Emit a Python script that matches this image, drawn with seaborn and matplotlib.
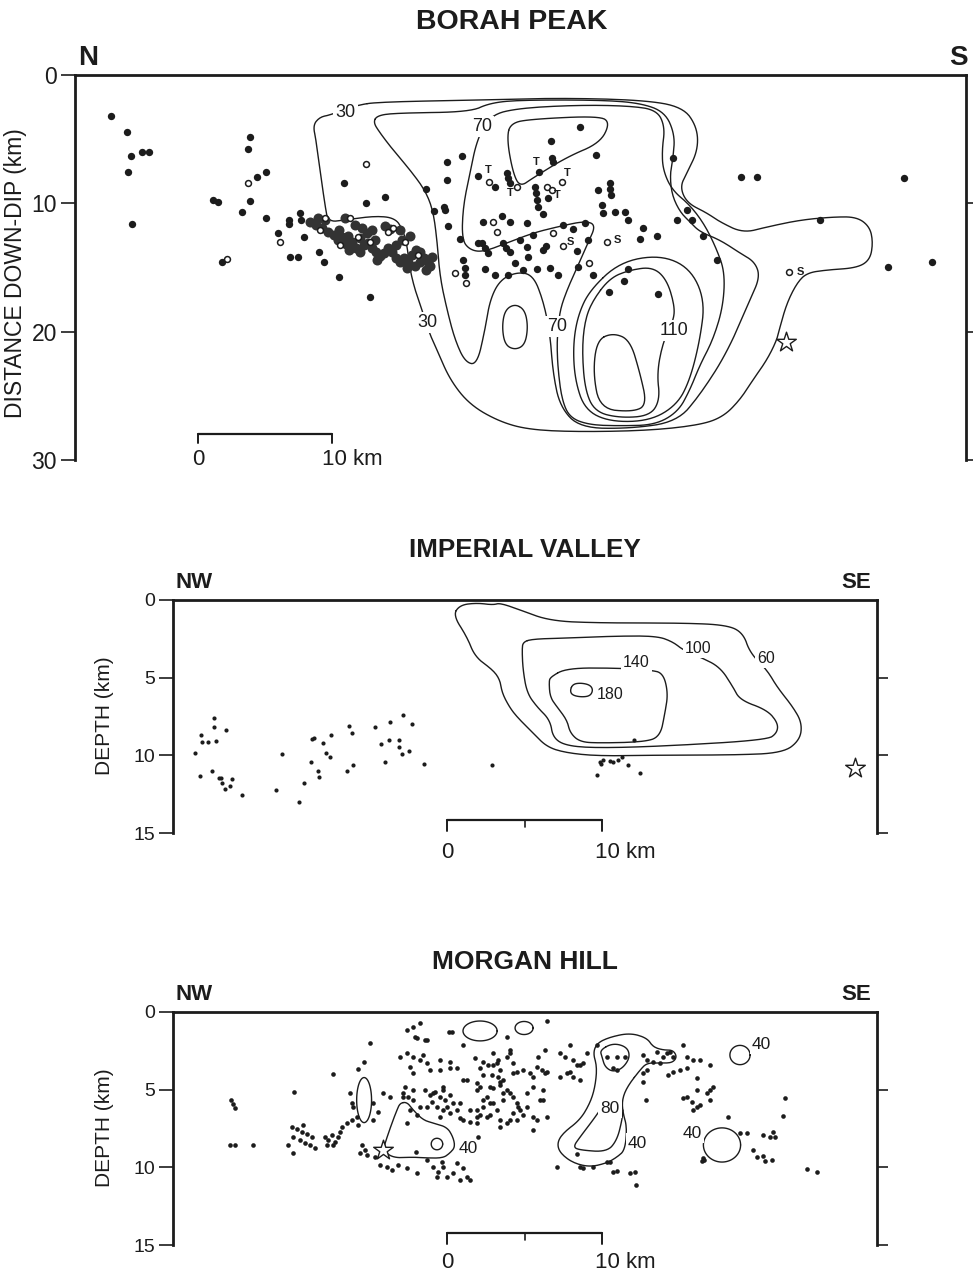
import numpy as np
import matplotlib
matplotlib.use("Agg")
import matplotlib.pyplot as plt
import seaborn as sns

sns.set_theme(style="white")
plt.rcParams['font.family'] = ['Liberation Sans', 'DejaVu Sans']
INK = "#1c1c1c"

# ======================= BORAH PEAK =======================
# x: km along strike (scale-bar origin), y: km down-dip
borah_filled = [
    (-6.49,3.19),(-5.30,4.44),(-5.0,6.31),(-4.18,6.0),(-3.66,6.0),(-5.22,7.56),(-4.92,11.61),
    (3.88,4.83),(3.73,5.76),(5.07,7.56),(4.40,7.95),(3.88,9.82),(1.12,9.74),(1.49,9.89),(3.28,10.67),(5.07,11.14),
    (10.89,8.41),(13.95,9.50),(12.53,9.97),(6.79,11.30),(6.79,11.61),(7.61,10.75),(7.68,11.30),(5.97,12.31),(7.91,12.62),
    (6.86,14.18),(7.46,14.18),(9.03,13.79),(9.40,14.57),(10.52,15.74),(12.83,17.29),(1.79,14.57),
    (18.58,6.78),(19.69,6.31),(18.58,8.18),(20.89,7.87),(17.01,8.88),(18.35,10.28),(18.43,10.52),(17.61,10.59),
    (18.65,11.76),(19.55,12.78),(20.89,13.09),(19.77,14.41),(19.92,15.03),(19.92,15.58),
    (28.50,4.05),(26.33,5.14),(29.69,6.23),(26.41,6.47),(26.48,6.78),(22.16,8.72),(23.05,7.63),(23.13,8.02),(23.28,8.41),
    (25.44,7.56),(25.14,8.72),(25.21,9.19),(25.29,9.74),(25.36,10.28),(26.11,9.58),(25.74,10.83),
    (29.84,8.96),(30.74,8.41),(30.74,8.88),(30.81,9.35),(30.14,10.13),(30.21,10.75),(31.11,10.67),(31.85,10.67),(32.08,11.30),
    (35.44,6.47),(36.48,10.52),(36.85,11.30),(35.73,11.30),(37.67,12.54),(38.72,14.41),(33.20,11.92),(34.24,12.54),(32.97,12.78),
    (29.09,12.85),(27.98,12.0),(28.87,11.53),(27.23,11.69),(24.54,11.53),(21.26,11.45),(22.68,10.98),(23.28,11.45),
    (21.19,13.09),(21.41,13.48),(21.63,13.87),(22.75,13.09),(22.98,13.48),(23.28,13.79),(24.02,12.85),(24.99,12.46),
    (24.54,13.40),(24.62,14.18),(25.74,13.63),(25.96,13.32),(28.27,13.71),(21.41,15.11),(22.16,15.58),(23.13,15.58),
    (23.65,14.65),(24.25,15.19),(25.29,15.11),(26.26,15.03),(26.86,15.58),(28.35,14.96),(29.47,15.58),(32.08,15.11),
    (31.78,16.05),(30.66,16.90),(34.32,17.06),
    (40.51,7.95),(41.70,7.95),(52.67,8.02),(46.40,11.30),(51.47,14.96),(54.76,14.57),
]
borah_band = [
    (8.36,11.45),(8.80,11.69),(9.25,11.92),(9.70,12.23),(10.15,12.46),(10.44,12.85),(10.74,12.62),(11.19,12.54),
    (11.49,13.01),(11.79,13.48),(12.09,13.79),(12.38,13.24),(12.68,13.09),(12.98,13.48),(13.28,13.79),(13.58,14.10),
    (13.88,13.87),(14.17,13.48),(14.47,13.79),(14.77,14.26),(15.07,14.57),(15.37,14.26),(15.67,14.57),(15.96,14.02),
    (16.26,13.63),(16.56,13.79),(16.86,14.26),(17.16,14.57),(17.46,14.18),(11.71,11.69),(12.23,11.92),(12.61,12.31),
    (12.98,12.08),(13.95,11.76),(14.32,12.0),(11.26,13.63),(13.35,14.41),(15.59,15.03),(16.19,14.88),(15.22,12.85),
    (14.77,13.24),(10.52,12.08),(11.04,13.17),(17.01,15.19),(17.31,14.88),(16.56,14.57),(8.95,11.14),(9.47,11.30),
    (10.97,11.14),(15.07,12.08),(15.82,12.54),(13.20,12.85),(12.09,12.70),
]
borah_open = [
    (12.53,6.93),(3.73,8.41),(6.12,13.01),(2.16,14.33),(21.71,8.34),(23.80,8.72),(26.04,8.72),(26.41,8.96),(27.15,8.34),
    (26.48,12.31),(22.01,11.45),(22.31,12.23),(29.17,14.65),(30.51,13.01),(27.23,13.32),(19.17,15.42),(19.99,16.20),
    (44.09,15.35),(9.47,11.14),(11.34,11.14),(14.17,12.23),(14.55,11.92),(12.83,13.01),(11.94,12.62),(10.59,13.24),
    (16.41,14.02),(15.44,13.01),(9.10,12.07),
]
borah_T = [(21.63,7.40),(23.28,9.19),(25.21,6.78),(26.78,9.35),(27.53,7.63)]
borah_S = [(31.26,12.85),(27.75,13.01),(44.91,15.35)]
borah_star = [(43.86,20.80)]

borah_c30 = [(11.86,2.34),(13.58,2.10),(21.04,1.95),(27.01,1.79),(33.20,1.95),(36.18,2.49),(37.23,4.05),(37.30,5.84),
    (36.48,7.63),(35.96,8.72),(36.48,9.97),(37.97,10.75),(38.94,11.45),(40.66,12.31),(42.45,11.84),(44.91,11.30),
    (47.37,11.06),(49.16,11.06),(50.13,11.84),(50.36,13.09),(50.13,14.41),(49.16,15.03),(46.92,15.19),(45.43,15.42),
    (44.69,16.20),(43.94,17.76),(43.42,19.63),(43.19,20.64),(42.45,22.20),(41.40,23.76),(40.43,25.32),(39.17,26.64),
    (37.45,27.27),(33.72,27.70),(28.50,27.81),(24.77,27.65),(22.53,27.03),(20.29,25.71),(18.80,23.76),(17.83,21.42),
    (17.31,20.25),(16.71,18.31),(16.19,16.75),(15.82,15.19),(15.59,13.24),(15.29,12.07),(14.70,11.14),(13.20,10.98),
    (10.97,11.30),(9.70,11.45),(9.47,10.13),(9.10,7.40),(8.80,5.06),(8.58,3.90),(9.10,3.27),(9.85,3.12)]
borah_c50 = [(13.06,3.66),(13.43,3.12),(15.07,2.96),(20.29,2.88),(21.78,2.18),(24.02,1.95),(29.99,1.95),(32.97,2.18),
    (34.84,2.88),(35.58,4.67),(35.44,6.47),(35.21,7.79),(35.36,9.35),(35.96,10.67),(36.70,11.45),(37.45,12.23),
    (38.94,12.85),(40.43,13.87),(41.55,14.57),(41.93,15.74),(41.18,17.53),(39.46,21.66),(37.45,24.93),(35.73,27.03),
    (32.23,27.55),(28.50,27.50),(27.01,25.86),(26.48,23.21),(26.26,20.10),(25.74,17.53),(24.99,15.58),(23.80,15.35),
    (22.53,15.97),(21.78,17.53),(21.41,19.86),(20.81,22.59),(19.92,22.36),(19.17,20.64),(18.58,18.31),(18.05,15.74),
    (17.83,12.85),(17.53,10.52),(16.93,8.96),(15.82,7.40),(14.55,5.84),(13.58,4.52)]
borah_c70 = [(20.81,5.06),(21.78,3.12),(24.02,2.57),(28.50,2.34),(32.23,2.41),(34.24,2.73),(34.84,4.05),(34.62,5.84),
    (34.69,7.40),(35.36,8.96),(36.70,10.13),(37.82,11.69),(38.72,13.63),(39.31,15.42),(39.17,18.07),(38.42,20.64),
    (37.45,22.59),(36.70,24.54),(35.81,26.25),(34.09,27.27),(31.48,27.34),(29.24,27.27),(27.75,26.72),(27.15,25.32),
    (26.86,22.98),(26.78,21.03),(26.86,19.86),(27.01,18.31),(27.53,16.75),(28.27,15.03),(29.09,13.09),(29.69,11.69),
    (28.87,11.37),(26.78,11.84),(24.99,12.31),(23.05,13.09),(21.26,13.79),(20.29,13.63),(19.69,12.85),(19.77,10.28),
    (20.29,7.63)]
borah_c90a = [(23.28,3.74),(23.05,5.06),(23.50,7.63),(24.02,8.72),(24.99,8.02),(27.53,6.39),(29.99,5.30),(30.74,3.74),
    (29.99,3.19),(24.99,3.43)]
borah_c90b = [(29.24,16.75),(31.48,14.57),(34.47,14.02),(36.70,15.03),(37.82,17.53),(37.45,20.64),(36.70,23.76),
    (35.73,25.71),(33.72,26.95),(30.74,27.03),(28.87,26.10),(28.12,23.76),(27.98,21.03),(28.35,18.70)]
borah_c110 = [(29.47,17.53),(30.74,15.81),(32.23,15.19),(33.94,14.96),(34.99,15.97),(35.58,18.07),(35.44,19.24),
    (34.69,20.80),(34.24,23.21),(34.47,25.32),(33.72,26.56),(31.48,26.72),(29.62,26.25),(28.87,24.54),(28.65,21.42),
    (28.87,19.09)]
borah_c130 = [(29.77,20.64),(30.96,20.10),(32.23,20.64),(32.97,23.21),(33.50,25.71),(32.45,26.25),(29.99,26.02),(29.47,23.21)]
borah_island = [(23.65,17.84),(24.39,18.31),(24.62,19.63),(24.39,21.03),(23.65,21.42),(22.90,21.03),(22.68,19.63),(22.90,18.31)]
borah_labels = [("30",11.0,2.9),("70",21.2,4.0),("30",17.1,19.3),("70",26.8,19.6),("110",35.5,19.9)]

# ======================= IMPERIAL VALLEY =======================
imp_x = [-15.03,-15.03,-14.26,-15.87,-15.81,-15.42,-14.90,-16.26,-15.94,-15.16,-14.71,-14.58,-14.52,-13.87,-14.00,
         -14.32,-13.23,-11.03,-10.65,-9.55,-9.23,-8.71,-8.58,-8.77,-8.00,-7.48,-7.81,-7.55,-8.32,-8.26,-6.45,-6.06,
         -6.32,-6.13,-4.65,-4.26,-3.68,-3.74,-2.84,-2.26,-3.10,-3.10,-2.90,-2.45,-4.00,-1.48,2.90,12.06,9.87,10.06,
         10.52,10.71,11.03,11.29,11.68,9.68,12.45,9.94]
imp_y = [7.60,8.18,8.37,8.69,9.14,9.14,9.08,9.85,11.33,11.01,11.46,11.46,11.78,11.53,11.98,12.17,12.56,12.23,9.92,
         13.01,11.78,8.95,8.89,10.43,9.21,8.69,9.85,10.11,11.01,11.40,11.01,10.62,8.11,8.56,8.18,9.27,7.86,9.01,7.41,
         7.98,9.01,9.47,9.92,9.72,10.43,10.56,10.62,9.01,10.43,10.30,10.37,10.43,10.30,10.11,10.62,11.27,11.14,10.56]
imp_star = [(26.32,10.82)]
imp_c60 = [(0.39,0.97),(0.84,0.32),(1.94,0.19),(2.97,0.32),(3.42,0.19),(4.71,0.64),(6.65,1.35),(9.87,1.48),(15.23,1.48),
    (18.06,1.61),(19.10,2.12),(19.55,3.41),(20.65,4.51),(21.29,5.60),(22.32,6.89),(22.90,7.92),(22.77,9.01),(21.68,9.85),
    (18.45,9.98),(14.19,9.98),(9.87,10.05),(7.74,9.85),(6.45,9.47),(5.55,8.56),(4.58,7.60),(4.06,6.95),(3.55,5.99),
    (3.42,5.15),(2.97,4.51),(1.81,3.67),(1.29,2.38)]
imp_c100 = [(4.90,2.70),(5.55,2.51),(7.74,2.45),(10.97,2.32),(13.55,2.32),(14.58,2.70),(15.23,3.22),(16.32,3.67),
    (17.61,4.31),(18.45,5.60),(18.90,6.44),(20.65,7.08),(21.35,7.92),(21.29,8.56),(20.65,9.01),(14.19,9.40),(9.87,9.53),
    (7.74,9.40),(6.84,8.89),(6.65,7.73),(5.81,6.89),(5.16,5.99),(4.90,4.51),(4.84,3.22)]
imp_c140 = [(6.65,4.96),(7.74,4.38),(10.97,4.38),(13.10,4.51),(13.94,4.70),(14.26,5.99),(14.06,7.28),(13.74,8.82),
    (12.65,9.14),(9.87,9.21),(8.58,9.14),(7.94,8.56),(7.74,7.73),(7.10,6.89),(6.65,6.25),(6.58,5.34)]
imp_c180 = [(7.94,5.80),(8.13,5.41),(8.65,5.34),(9.23,5.47),(9.42,5.80),(9.23,6.18),(8.65,6.25),(8.06,6.12)]
imp_labels = [("60",20.6,3.75),("100",16.2,3.1),("140",12.2,4.0),("180",10.5,6.1)]

# ======================= MORGAN HILL =======================
morgan_pts = [
    (-13.80,5.93),(-13.67,6.18),(-13.93,5.67),(-14.0,8.57),(-13.67,8.57),(-12.51,8.57),(-9.87,5.15),
    (-10.0,7.41),(-9.68,7.53),(-9.35,7.73),(-9.03,7.86),(-8.71,8.05),(-9.93,8.05),(-9.48,8.24),(-9.16,8.44),(-8.84,8.57),
    (-10.26,8.57),(-9.93,9.08),(-8.51,8.76),(-9.29,7.28),
    (-7.87,8.05),(-7.68,8.24),(-7.42,7.92),(-7.22,8.37),(-7.03,8.05),(-7.35,8.57),(-7.74,8.57),(-6.90,7.73),(-6.77,7.41),
    (-6.45,7.15),(-6.13,6.96),(-5.81,6.76),(-5.74,7.28),
    (-7.35,3.99),(-5.74,3.67),(-5.35,3.22),(-4.97,2.00),(-6.26,5.22),(-6.13,5.86),(-6.06,6.12),(-4.77,5.86),(-4.45,6.44),(-4.77,6.96),
    (-5.48,8.57),(-5.29,8.89),(-5.61,9.08),(-5.16,9.21),(-4.64,9.34),(-4.32,9.85),(-3.87,9.98),(-3.55,10.18),(-3.16,9.85),
    (-2.58,10.05),(-1.94,10.37),
    (-2.58,7.15),(-2.00,9.02),(-1.29,9.53),(-0.90,9.98),(-0.58,10.30),(-0.26,9.98),(0.0,10.63),(0.39,10.37),(0.84,10.82),
    (1.29,10.63),(1.03,10.05),(0.65,9.72),(-0.65,10.63),(-0.32,9.66),(1.48,10.82),(2.0,8.05),
    (-4.13,5.22),(-3.68,5.47),(-2.84,5.22),(-2.52,5.47),(-2.19,5.02),(-2.71,4.83),(-1.42,5.02),(-1.10,5.35),(-0.77,5.15),
    (-0.45,5.47),(-0.13,5.67),(0.19,5.35),(0.39,5.86),(-0.97,5.80),(0.0,6.12),(-0.26,5.02),(-1.29,6.12),(-0.45,6.76),
    (0.84,5.86),(1.48,6.31),(1.94,6.76),(1.03,6.96),
    (-2.58,2.64),(-2.19,2.90),(-1.74,3.09),(-1.29,3.28),(-1.10,3.73),(-2.39,3.54),(-1.55,2.77),(-3.03,2.90),(-2.19,0.97),
    (-1.74,0.71),(-2.58,1.16),(-1.94,1.67),(-1.29,1.80),(-0.45,3.09),(0.19,3.22),(0.19,3.61),(0.65,3.61),(0.13,1.29),
    (1.03,2.12),(-2.19,3.93),
    (1.81,2.96),(2.32,3.22),(2.97,3.41),(2.13,3.61),(3.42,3.73),(1.03,4.38),(1.94,4.57),(2.77,4.83),(3.42,4.51),(1.94,5.02),
    (2.58,5.47),(2.97,5.86),(2.32,6.12),(3.23,6.31),(3.61,5.22),(2.77,6.63),(3.42,6.96),
    (3.87,2.90),(4.26,3.93),(3.87,5.02),(4.26,5.47),(4.58,6.12),
    (6.45,0.58),(7.94,2.12),(7.29,2.64),(7.61,2.90),(7.74,3.93),(8.13,4.19),(5.55,4.83),(6.32,2.45),(4.52,3.86),(4.90,3.73),
    (5.35,3.93),(5.81,3.54),(6.13,3.73),(6.32,3.93),(4.26,3.28),(2.97,2.64),(3.29,3.09),(3.61,4.38),(4.06,5.22),(4.52,5.86),
    (4.26,6.50),(5.16,6.12),(5.81,6.96),(4.52,6.96),(4.90,6.63),
    (8.13,3.09),(8.58,3.41),(9.03,2.64),(8.77,3.28),(8.58,4.38),(5.55,4.19),(6.45,3.86),(4.06,2.64),(5.87,2.90),(6.19,5.02),
    (5.16,5.22),(4.71,6.31),(4.06,6.96),(5.55,6.76),(5.55,7.60),
    (10.32,2.90),(10.97,2.90),(11.48,2.90),(10.71,3.61),(10.97,3.73),(9.68,2.12),
    (12.65,2.77),(12.90,3.09),(13.29,3.22),(13.74,3.28),(14.19,2.64),(14.39,2.58),(14.58,2.90),(13.94,2.90),(13.55,2.58),
    (12.65,3.93),(12.65,4.51),(12.90,3.73),
    (15.23,2.12),(15.48,2.90),(15.87,3.09),(16.32,3.09),(14.26,4.06),(14.58,3.86),(15.03,3.73),(15.48,3.61),(16.97,3.41),
    (16.13,4.25),(16.13,5.02),(15.23,5.54),(15.48,5.47),(15.81,5.80),(16.13,6.12),(15.87,6.31),(16.32,5.99),(16.77,5.22),
    (16.97,5.02),(17.16,4.83),(16.97,5.67),(12.84,5.67),
    (18.13,6.76),(18.90,7.79),(19.35,7.79),(20.39,7.92),(20.84,8.05),(21.03,7.73),(21.16,8.05),(19.74,8.89),(20.0,9.34),
    (20.39,9.27),(20.52,9.59),(20.97,9.53),(21.81,5.54),(21.68,6.70),(23.23,10.11),(23.87,10.30),(16.52,9.40),(16.45,9.59),
    (16.60,9.50),
    (7.10,9.98),(8.58,9.98),(8.77,10.05),(9.42,9.98),(10.32,9.66),(10.52,9.66),(10.71,10.30),(10.97,10.24),(11.81,10.37),
    (12.13,10.30),(12.19,11.14),(8.39,9.14),(6.19,5.67),(6.45,6.76),
    (0.32,1.29),(-2.06,1.61),(-1.42,1.80),(-0.45,3.73),(1.29,4.38),(2.65,3.41),(3.23,3.28),(2.32,4.06),(2.90,4.06),(3.29,4.19),
    (2.13,4.83),(2.97,4.89),(3.42,4.70),(2.32,5.67),(2.77,5.86),(3.61,5.67),(1.94,6.31),(2.13,6.63),(2.58,6.76),(-0.90,5.22),
    (-0.26,4.83),(-0.65,6.12),(-0.26,6.31),(0.19,6.50),(0.65,6.31),(-2.84,5.47),(-2.19,5.67),(-1.74,6.12),(-2.39,6.31),
    (-1.94,6.63),(0.84,6.83),(1.48,7.08),(1.94,7.15),(3.42,7.41),(3.87,7.15),(6.0,5.67),(3.87,1.61),(4.06,2.45),(7.29,4.19),
    (7.94,3.86),(8.39,3.41),
]
morgan_star = [(-4.13,8.89)]
mh_left40 = [(-3.03,5.86),(-2.58,5.80),(-2.19,6.31),(-1.55,6.95),(-0.90,7.15),(0.0,7.41),(0.39,8.05),(0.52,8.69),(0.19,9.08),
    (-0.26,9.40),(-1.29,9.40),(-2.19,9.34),(-3.48,9.40),(-4.13,8.89),(-3.87,8.05),(-3.48,6.95),(-3.23,6.31)]
mh_mid40 = [(12.45,3.73),(11.61,4.83),(11.29,5.67),(11.35,6.50),(11.61,7.41),(11.48,8.89),(10.97,9.34),(10.32,9.72),
    (9.23,9.98),(8.13,9.72),(7.29,9.08),(7.10,8.44),(7.48,7.79),(8.58,6.95),(9.23,5.86),(9.55,4.83),(9.68,3.54),(9.42,2.64),
    (9.68,2.00),(10.52,1.61),(11.81,1.35),(12.90,1.67),(13.29,2.25),(13.94,2.45),(14.58,2.45),(14.84,2.90),(14.52,3.28),
    (13.74,3.28),(12.90,3.28)]
mh_80 = [(9.87,6.31),(9.42,6.95),(8.58,8.05),(8.13,8.69),(8.58,8.89),(10.32,9.01),(10.97,8.24),(11.29,6.95),(11.35,6.31)]
mh_top = [(9.87,2.45),(10.71,2.00),(11.61,2.25),(11.81,2.90),(11.35,3.61),(10.71,3.86),(10.19,3.54),(10.0,2.90)]
# small closed contours: (centre x, centre y, half-width, half-height) in km
mh_ovals = [(2.13,1.22,1.1,0.64),(4.97,1.03,0.58,0.42),(-5.35,5.67,0.48,1.45),(-0.65,8.50,0.37,0.37),
            (18.90,2.77,0.65,0.62),(17.74,8.56,1.2,1.1)]
mh_labels = [("40",1.4,8.8),("40",12.3,8.45),("40",15.8,7.8),("40",20.3,2.1),("80",10.5,6.2)]


def chaikin(pts, n=3, closed=True):
    p = np.asarray(pts, float)
    for _ in range(n):
        q = np.roll(p, -1, axis=0) if closed else p[1:]
        a = p if closed else p[:-1]
        Q = 0.75 * a + 0.25 * q
        R = 0.25 * a + 0.75 * q
        new = np.empty((2 * len(a), 2))
        new[0::2] = Q
        new[1::2] = R
        if not closed:
            new = np.vstack([p[:1], new, p[-1:]])
        p = new
    if closed:
        p = np.vstack([p, p[:1]])
    return p


def contour(ax, pts, closed=True, lw=1.0):
    p = chaikin(pts, closed=closed)
    ax.plot(p[:, 0], p[:, 1], color=INK, lw=lw, solid_joinstyle='round', zorder=2)


def oval(ax, cx, cy, rx, ry, lw=1.0):
    t = np.linspace(0, 2 * np.pi, 80)
    ax.plot(cx + rx * np.cos(t), cy + ry * np.sin(t), color=INK, lw=lw, zorder=2)


def frame(ax, xlim, ymax, lticks, rticks, tick_fs):
    ax.set_xlim(*xlim)
    ax.set_ylim(ymax, 0)
    ax.set_xticks([])
    ax.set_yticks(lticks)
    ax.spines['bottom'].set_visible(False)
    for s in ['left', 'top', 'right']:
        ax.spines[s].set_linewidth(2.0)
        ax.spines[s].set_color(INK)
    ax.tick_params(axis='y', left=True, direction='out', length=10, width=1.2,
                   labelsize=tick_fs, colors=INK, pad=3)
    ax2 = ax.twinx()
    ax2.set_ylim(ymax, 0)
    ax2.set_yticks(rticks)
    ax2.set_yticklabels([])
    ax2.tick_params(axis='y', right=True, direction='out', length=8, width=1.2, colors=INK)
    for s in ax2.spines.values():
        s.set_visible(False)
    ax.set_facecolor('white')


def scalebar(ax, y, tick, lab_y, fs, mid=False):
    ax.plot([0, 10], [y, y], color=INK, lw=1.6, clip_on=False)
    for xv in [0, 10]:
        ax.plot([xv, xv], [y, y + tick], color=INK, lw=1.4, clip_on=False)
    if mid:
        ax.plot([5, 5], [y, y + tick * 0.6], color=INK, lw=1.2, clip_on=False)
    ax.text(0, lab_y, "0", ha='center', va='center', fontsize=fs, color=INK, clip_on=False)
    ax.text(11.5, lab_y, "10 km", ha='center', va='center', fontsize=fs, color=INK, clip_on=False)


def clabel(ax, items, fs):
    for t, x, y in items:
        ax.text(x, y, t, fontsize=fs, ha='center', va='center', color=INK, zorder=3,
                bbox=dict(facecolor='white', edgecolor='none', pad=1.6))


fig = plt.figure(figsize=(9.73, 12.74), dpi=100)
fig.patch.set_facecolor('white')

# ---------------- Borah Peak ----------------
ax1 = fig.add_axes([75 / 973, 1 - 460 / 1274, 891 / 973, 385 / 1274])
frame(ax1, (-9.18, 57.3), 30, [0, 10, 20, 30], [10, 20, 30], 16.5)
for c in [borah_c30, borah_c50, borah_c70, borah_c90a, borah_c90b, borah_c110, borah_c130, borah_island]:
    contour(ax1, c)
bf = np.array(borah_filled); bb = np.array(borah_band); bo = np.array(borah_open)
sns.scatterplot(x=bf[:, 0], y=bf[:, 1], ax=ax1, s=28, color=INK, linewidth=0, legend=False, zorder=4)
sns.scatterplot(x=bb[:, 0], y=bb[:, 1], ax=ax1, s=52, color="#333333", linewidth=0, legend=False, zorder=4)
sns.scatterplot(x=bo[:, 0], y=bo[:, 1], ax=ax1, s=18, color='white', edgecolor=INK, linewidth=1.1, legend=False, zorder=5)
bs = np.array(borah_star)
sns.scatterplot(x=bs[:, 0], y=bs[:, 1], ax=ax1, s=220, marker='*', color='white', edgecolor=INK, linewidth=1.0, legend=False, zorder=5)
for x, y in borah_T:
    ax1.text(x, y, "T", fontsize=8, fontweight='bold', ha='center', va='center', color=INK, zorder=6)
for x, y in borah_S:
    ax1.text(x, y, "S", fontsize=8, fontweight='bold', ha='center', va='center', color=INK, zorder=6)
clabel(ax1, borah_labels, 13)
scalebar(ax1, 27.97, 0.7, 29.95, 16)
fig.text(16 / 973, 1 - 273 / 1274, "DISTANCE DOWN-DIP (km)", rotation=90, fontsize=16.5,
         ha='center', va='center', color=INK)
ax1.text(0.015, 1.045, "N", transform=ax1.transAxes, fontsize=20, fontweight='bold', ha='center', va='center', color=INK)
ax1.text(0.992, 1.045, "S", transform=ax1.transAxes, fontsize=20, fontweight='bold', ha='center', va='center', color=INK)
fig.text(512 / 973, 1 - 22 / 1274, "BORAH PEAK", fontsize=20.5, fontweight='bold', ha='center', va='center', color=INK)

# ---------------- Imperial Valley ----------------
ax2 = fig.add_axes([173 / 973, 1 - 833 / 1274, 704 / 973, 233 / 1274])
frame(ax2, (-17.68, 27.74), 15, [0, 5, 10, 15], [5, 10, 15], 14)
for c in [imp_c60, imp_c100, imp_c140, imp_c180]:
    contour(ax2, c)
sns.scatterplot(x=imp_x, y=imp_y, ax=ax2, s=9, color=INK, linewidth=0, legend=False, zorder=4)
ist = np.array(imp_star)
sns.scatterplot(x=ist[:, 0], y=ist[:, 1], ax=ax2, s=220, marker='*', color='white', edgecolor=INK, linewidth=1.0, legend=False, zorder=5)
clabel(ax2, imp_labels, 11.5)
scalebar(ax2, 14.17, 0.7, 16.25, 16, mid=True)
fig.text(105 / 973, 1 - 716 / 1274, "DEPTH (km)", rotation=90, fontsize=15, ha='center', va='center', color=INK)
ax2.text(0.03, 1.075, "NW", transform=ax2.transAxes, fontsize=16, fontweight='bold', ha='center', va='center', color=INK)
ax2.text(0.97, 1.075, "SE", transform=ax2.transAxes, fontsize=16, fontweight='bold', ha='center', va='center', color=INK)
fig.text(525 / 973, 1 - 550 / 1274, "IMPERIAL VALLEY", fontsize=18.7, fontweight='bold', ha='center', va='center', color=INK)

# ---------------- Morgan Hill ----------------
ax3 = fig.add_axes([173 / 973, 1 - 1245 / 1274, 704 / 973, 233 / 1274])
frame(ax3, (-17.68, 27.74), 15, [0, 5, 10, 15], [5, 10, 15], 14)
contour(ax3, mh_left40)
contour(ax3, mh_mid40)
contour(ax3, mh_80, closed=False)
contour(ax3, mh_top)
for cx, cy, rx, ry in mh_ovals:
    oval(ax3, cx, cy, rx, ry)
mp = np.array(morgan_pts)
sns.scatterplot(x=mp[:, 0], y=mp[:, 1], ax=ax3, s=11, color=INK, linewidth=0, legend=False, zorder=4)
ms = np.array(morgan_star)
sns.scatterplot(x=ms[:, 0], y=ms[:, 1], ax=ax3, s=220, marker='*', color='white', edgecolor=INK, linewidth=1.0, legend=False, zorder=5)
clabel(ax3, mh_labels, 12.5)
scalebar(ax3, 14.23, 0.7, 16.1, 16, mid=True)
fig.text(105 / 973, 1 - 1128 / 1274, "DEPTH (km)", rotation=90, fontsize=15, ha='center', va='center', color=INK)
ax3.text(0.03, 1.075, "NW", transform=ax3.transAxes, fontsize=16, fontweight='bold', ha='center', va='center', color=INK)
ax3.text(0.97, 1.075, "SE", transform=ax3.transAxes, fontsize=16, fontweight='bold', ha='center', va='center', color=INK)
fig.text(525 / 973, 1 - 962 / 1274, "MORGAN HILL", fontsize=19, fontweight='bold', ha='center', va='center', color=INK)

fig.savefig("out.png", dpi=100, facecolor='white')
